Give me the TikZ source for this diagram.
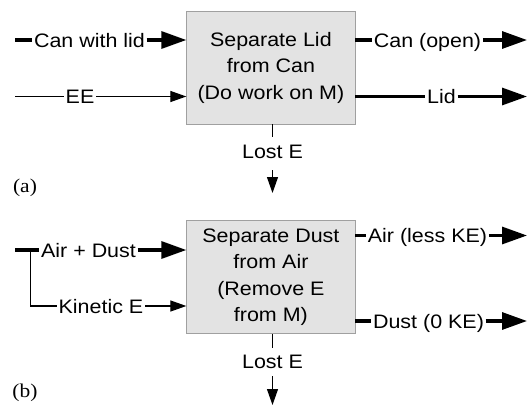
\documentclass[tikz,border=0pt]{standalone}
\usepackage{fontspec}
\setmainfont{Liberation Sans}[FakeStretch=1.1]
\newfontfamily\capfont{Liberation Serif}[FakeStretch=1.1]
\usetikzlibrary{arrows.meta}
\definecolor{boxfill}{HTML}{E3E3E3}
\definecolor{boxline}{HTML}{A0A0A0}
\tikzset{
  procbox/.style={draw=boxline, line width=0.8pt, fill=boxfill, minimum width=168.3pt, align=center, inner sep=0pt, font=\fontsize{19.5}{26.3}\selectfont},
  flowlabel/.style={inner xsep=1.5pt, inner ysep=0pt, text height=14pt, text depth=0pt, font=\fontsize{19.5}{22}\selectfont},
  thickln/.style={line width=3.2pt},
  thinln/.style={line width=1.2pt},
  thickarr/.style={line width=3.2pt, -{Triangle[length=25pt,width=17pt]}},
  thinarr/.style={line width=1.2pt, -{Triangle[length=16pt,width=11pt]}},
  panel/.style={font=\capfont\fontsize{19.5}{22}\selectfont, inner sep=0pt}
}
\begin{document}
\begin{tikzpicture}[x=1pt,y=-1pt]
\useasboundingbox (0,0) rectangle (531,407);
% ---------- (a) ----------
\node[procbox, minimum height=112.3pt] (A) at (270.9,67.9) {Separate Lid\\from Can\\(Do work on M)};
\coordinate (s1) at (15,40);
\node[flowlabel] (l1) at (89.5,40) {Can with lid};
\draw[thickln] (s1) -- (l1.west);
\draw[thickarr] (l1.east) -- (l1.east -| A.west);
\coordinate (s2) at (15,96.5);
\node[flowlabel] (l2) at (80,96.5) {EE};
\draw[thinln] (s2) -- (l2.west);
\draw[thinarr] (l2.east) -- (l2.east -| A.west);
\node[flowlabel] (r1) at (427.5,40) {Can (open)};
\coordinate (e1) at (527,40);
\draw[thickln] (r1.west -| A.east) -- (r1.west);
\draw[thickarr] (r1.east) -- (e1);
\node[flowlabel] (r2) at (441.5,96.5) {Lid};
\coordinate (e2) at (527,96.5);
\draw[thickln] (r2.west -| A.east) -- (r2.west);
\draw[thickarr] (r2.east) -- (e2);
\node[flowlabel, inner ysep=0pt, text height=21pt, text depth=12pt, anchor=base] (la) at (272.5,158) {Lost E};
\coordinate (ta) at (272.5,193);
\draw[thinln] (A.south -| la.north) -- (la.north);
\draw[thinarr] (la.south) -- (ta);
\node[panel] (pa) at (25,188) {(a)};
% ---------- (b) ----------
\node[procbox, minimum height=112.8pt] (B) at (270.9,277.1) {Separate Dust\\from Air\\(Remove E\\from M)};
\coordinate (s3) at (15,250);
\coordinate (br) at (30.7,250);
\node[flowlabel] (l3) at (88.5,250) {Air + Dust};
\draw[thickln] (s3) -- (l3.west);
\draw[thickarr] (l3.east) -- (l3.east -| B.west);
\node[flowlabel] (l4) at (101,306) {Kinetic E};
\draw[thinln] (br) |- (l4.west);
\draw[thinarr] (l4.east) -- (l4.east -| B.west);
\node[flowlabel] (r3) at (427.5,235.5) {Air (less KE)};
\coordinate (e3) at (527,235.5);
\draw[thickln] (r3.west -| B.east) -- (r3.west);
\draw[thickarr] (r3.east) -- (e3);
\node[flowlabel] (r4) at (428.5,321) {Dust (0 KE)};
\coordinate (e4) at (527,321);
\draw[thickln] (r4.west -| B.east) -- (r4.west);
\draw[thickarr] (r4.east) -- (e4);
\node[flowlabel, inner ysep=0pt, text height=20pt, text depth=8pt, anchor=base] (lb) at (272.5,368) {Lost E};
\coordinate (tb) at (272.5,405);
\draw[thinln] (B.south -| lb.north) -- (lb.north);
\draw[thinarr] (lb.south) -- (tb);
\node[panel] (pb) at (25,393) {(b)};
\end{tikzpicture}
\end{document}
